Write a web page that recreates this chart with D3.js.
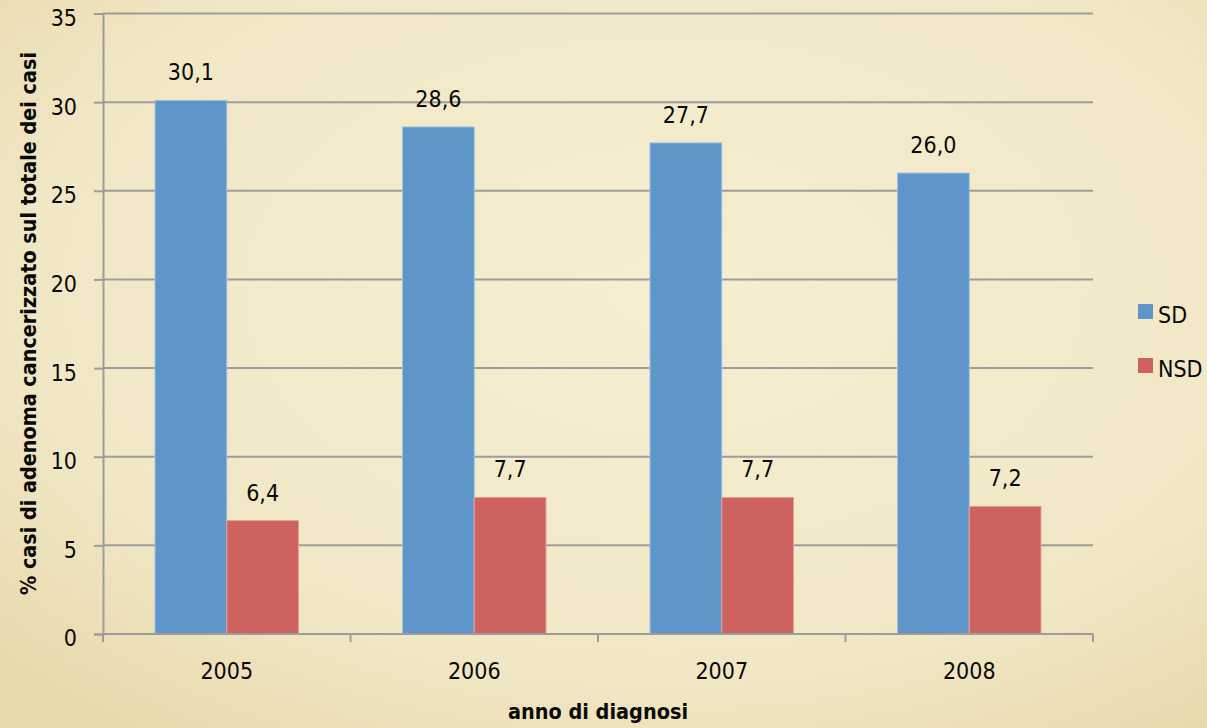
<!DOCTYPE html>
<html><head><meta charset="utf-8">
<script src="https://cdn.jsdelivr.net/npm/d3@7"></script>
<style>html,body{margin:0;padding:0;background:#f2e9c8;}svg{display:block;}</style>
</head><body>
<svg id="c" width="1207" height="728"></svg>
<script>
const categories = ["2005", "2006", "2007", "2008"];
const seriesNames = ["SD", "NSD"];
const sdValues = [30.1, 28.6, 27.7, 26.0];
const nsdValues = [6.4, 7.7, 7.7, 7.2];
const yTicks = [0, 5, 10, 15, 20, 25, 30, 35];
const colors = ["#5f95c9", "#cd625f"];
const edgeColors = ["#9dc0e3", "#e3a09c"];

const svg = d3.select("#c");
const W = 1207, H = 728;
const defs = svg.append("defs");
const rg = defs.append("radialGradient").attr("id","bg").attr("cx","55%").attr("cy","40%").attr("r","75%");
rg.append("stop").attr("offset","0%").attr("stop-color","#f5eed1");
rg.append("stop").attr("offset","70%").attr("stop-color","#f1e7c5");
rg.append("stop").attr("offset","100%").attr("stop-color","#e8d9ab");
svg.append("rect").attr("width",W).attr("height",H).attr("fill","url(#bg)");

const m = {left:103, right:1093, top:13.5, bottom:634};
const x = d3.scaleBand().domain(categories).range([m.left, m.right]).paddingInner(0).paddingOuter(0);
const inner = d3.scaleBand().domain(seriesNames).range([52, x.bandwidth()-52]).padding(0);
const y = d3.scaleLinear().domain([0,35]).range([m.bottom, m.top]);

const fontF = "'DejaVu Sans Condensed', 'DejaVu Sans', sans-serif";
const txt = "#0a0a0a";
const FS = 23;

// gridlines
svg.append("g").selectAll("line").data(yTicks.filter(d=>d>0)).join("line")
  .attr("x1", m.left).attr("x2", m.right)
  .attr("y1", d=>y(d)).attr("y2", d=>y(d))
  .attr("stroke","#9c9c9c").attr("stroke-width",2);

// y axis
const yAxis = d3.axisLeft(y).tickValues(yTicks).tickSize(9).tickPadding(17).tickFormat(d3.format("d"));
const ya = svg.append("g").attr("transform",`translate(${m.left},0)`).call(yAxis);
ya.select(".domain").attr("stroke","#9c9c9c").attr("stroke-width",2);
ya.selectAll(".tick line").attr("stroke","#9c9c9c").attr("stroke-width",2);
ya.selectAll(".tick text").attr("font-family",fontF).attr("font-stretch","condensed").attr("font-size",FS).attr("fill",txt).attr("dy","0.52em");

// bars
const data = categories.map((c,i)=>({c, vals:[sdValues[i], nsdValues[i]]}));
const groups = svg.append("g").selectAll("g").data(data).join("g")
  .attr("transform", d=>`translate(${x(d.c)},0)`);
groups.selectAll("rect").data(d=>d.vals.map((v,j)=>({v,j,s:seriesNames[j]}))).join("rect")
  .attr("x", d=>inner(d.s)).attr("width", inner.bandwidth())
  .attr("y", d=>y(d.v)).attr("height", d=>y(0)-y(d.v))
  .attr("fill", d=>colors[d.j]).attr("stroke", d=>edgeColors[d.j]).attr("stroke-width",1);
groups.selectAll("text").data(d=>d.vals.map((v,j)=>({v,j,s:seriesNames[j]}))).join("text")
  .attr("x", d=>inner(d.s)+inner.bandwidth()/2).attr("y", d=>y(d.v)-20)
  .attr("text-anchor","middle").attr("font-family",fontF).attr("font-stretch","condensed").attr("font-size",FS).attr("fill",txt)
  .text(d=>d3.format(".1f")(d.v).replace(".",","));

// x axis
const xAxis = d3.axisBottom(x).tickSize(0).tickPadding(29);
const xa = svg.append("g").attr("transform",`translate(0,${m.bottom})`).call(xAxis);
xa.select(".domain").attr("stroke","#9c9c9c").attr("stroke-width",2).attr("d",`M${m.left},0H${m.right}`);
xa.selectAll(".tick text").attr("font-family",fontF).attr("font-stretch","condensed").attr("font-size",FS).attr("fill",txt);
const bounds = categories.map(c=>x(c)).concat([m.right]);
svg.append("g").selectAll("line").data(bounds).join("line")
  .attr("x1",d=>d).attr("x2",d=>d).attr("y1",m.bottom).attr("y2",m.bottom+8)
  .attr("stroke","#9c9c9c").attr("stroke-width",2);

// axis titles
svg.append("text").attr("x", 598).attr("y", 719).attr("text-anchor","middle")
  .attr("font-family",fontF).attr("font-stretch","condensed").attr("font-weight","bold").attr("font-size",21).attr("fill",txt)
  .attr("textLength",180).attr("lengthAdjust","spacingAndGlyphs")
  .text("anno di diagnosi");
svg.append("text").attr("transform","translate(36,323.5) rotate(-90)").attr("text-anchor","middle")
  .attr("font-family",fontF).attr("font-stretch","condensed").attr("font-weight","bold").attr("font-size",21).attr("fill",txt)
  .attr("textLength",543).attr("lengthAdjust","spacingAndGlyphs")
  .text("% casi di adenoma cancerizzato sul totale dei casi");

// legend
const lg = svg.append("g").selectAll("g").data(seriesNames).join("g")
  .attr("transform",(d,i)=>`translate(1138,${304+i*54})`);
lg.append("rect").attr("width",15).attr("height",15).attr("fill",(d,i)=>colors[i]);
lg.append("text").attr("x",20).attr("y",19).attr("font-family",fontF).attr("font-stretch","condensed").attr("font-size",FS).attr("fill",txt).text(d=>d);
</script>
</body></html>
